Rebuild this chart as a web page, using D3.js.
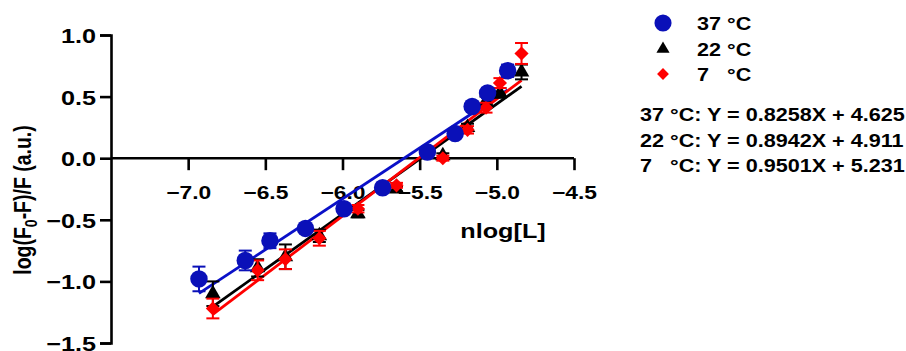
<!DOCTYPE html>
<html><head><meta charset="utf-8">
<script src="https://cdn.jsdelivr.net/npm/d3@7"></script>
<style>body{margin:0;background:#fff}svg{display:block;font-family:"Liberation Sans",Arial,sans-serif;font-weight:bold}</style>
</head><body><svg id="c" width="906" height="351"></svg>
<script>
const xTicks = [-7.0, -6.5, -6.0, -5.5, -5.0, -4.5];
const yTicks = [1.0, 0.5, 0.0, -0.5, -1.0, -1.5];
const seriesNames = ["37 °C", "22 °C", "7   °C"];
const equations = ["37 °C: Y = 0.8258X + 4.625", "22 °C: Y = 0.8942X + 4.911", "7   °C: Y = 0.9501X + 5.231"];
const slopes = [0.8258, 0.8942, 0.9501];
const intercepts = [4.625, 4.911, 5.231];
const x37 = [-6.93, -6.63, -6.47, -6.24, -5.99, -5.74, -5.45, -5.27, -5.16, -5.06, -4.93];
const y37 = [-0.98, -0.83, -0.67, -0.57, -0.41, -0.24, 0.05, 0.20, 0.42, 0.53, 0.71];
const e37 = [0.10, 0.08, 0.06, 0.03, 0.03, 0.02, 0.02, 0.03, 0.03, 0.04, 0.05];
const x22 = [-6.84, -6.55, -6.37, -6.15, -5.90, -5.65, -5.35, -5.19, -5.07, -4.98, -4.84];
const y22 = [-1.10, -0.89, -0.80, -0.63, -0.45, -0.25, 0.02, 0.25, 0.46, 0.53, 0.70];
const e22 = [0.10, 0.07, 0.10, 0.05, 0.03, 0.02, 0.02, 0.03, 0.04, 0.04, 0.06];
const x7 = [-6.84, -6.55, -6.37, -6.15, -5.90, -5.65, -5.35, -5.19, -5.07, -4.98, -4.84];
const y7 = [-1.22, -0.91, -0.82, -0.65, -0.41, -0.22, 0.00, 0.23, 0.41, 0.61, 0.85];
const e7 = [0.08, 0.08, 0.08, 0.06, 0.03, 0.02, 0.02, 0.03, 0.04, 0.04, 0.085];

const colors = ["#0a10b8", "#000000", "#ff0000"];
const lineColors = ["#0a10c8", "#000000", "#ff0000"];
const SX = 1.2;
const FONT = '"Liberation Sans",Arial,sans-serif';

const svg = d3.select("#c");
const x = d3.scaleLinear().domain([-7.5, -4.5]).range([111, 574]);
const y = d3.scaleLinear().domain([-1.5, 1.0]).range([343, 35]);

function stretch(sel) {
  sel.each(function() {
    const t = d3.select(this);
    const tx = +t.attr("x") || 0, ty = +t.attr("y") || 0;
    t.attr("x", 0).attr("y", 0).attr("transform", `translate(${tx},${ty}) scale(${SX},1)`);
  });
}
function stext(px, py, str, size, anchor) {
  return svg.append("text").attr("transform", `translate(${px},${py}) scale(${SX},1)`)
    .attr("text-anchor", anchor || "start").style("font-size", size + "px").attr("xml:space", "preserve").style("white-space", "pre").text(str);
}
const fmt = d => d3.format(".1f")(d).replace("-", "\u2212");

// y axis
const yAxis = svg.append("g").attr("transform", `translate(${x(-7.5)},0)`)
  .call(d3.axisLeft(y).tickValues(yTicks).tickSize(11).tickPadding(4).tickFormat(fmt));
// x axis at y=0
const xAxis = svg.append("g").attr("transform", `translate(0,${y(0)})`)
  .call(d3.axisBottom(x).tickValues(xTicks).tickSize(12).tickPadding(15).tickFormat(fmt));
[yAxis, xAxis].forEach(g => {
  g.selectAll(".domain").attr("stroke", "#000").attr("stroke-width", 2.6);
  g.selectAll(".tick line").attr("stroke", "#000").attr("stroke-width", 2.6);
  g.selectAll("text").attr("fill", "#000").style("font-weight", "bold").style("font-family", FONT);
});
yAxis.selectAll("text").style("font-size", "21px").attr("dy", "0.36em");
xAxis.selectAll("text").style("font-size", "19px");
stretch(yAxis.selectAll("text"));
stretch(xAxis.selectAll("text"));
xAxis.select(".domain").attr("d", `M${x(-7.5)},0H${x(-4.5)}`);

// axis titles
const yt = svg.append("text").attr("transform", `translate(31,200) scale(${SX},1) rotate(-90)`).attr("text-anchor", "middle").style("font-size", "19.5px");
yt.append("tspan").text("log(F");
yt.append("tspan").text("0").style("font-size", "14px").attr("dy", 5);
yt.append("tspan").text("-F)/F (a.u.)").attr("dy", -5);
stext(503, 238, "nlog[L]", 21, "middle");

const series = [
  {xs: x37, ys: y37, es: e37},
  {xs: x22, ys: y22, es: e22},
  {xs: x7, ys: y7, es: e7}
];
const symbolFor = [
  d3.symbol().type(d3.symbolCircle).size(240),
  d3.symbol().type(d3.symbolTriangle).size(105),
  d3.symbol().type(d3.symbolSquare).size(100)
];
const rot = [0, 0, 45];

// regression lines
series.forEach((s, i) => {
  const x0 = d3.min(s.xs), x1 = d3.max(s.xs);
  svg.append("line")
    .attr("x1", x(x0)).attr("y1", y(slopes[i] * x0 + intercepts[i]))
    .attr("x2", x(x1)).attr("y2", y(slopes[i] * x1 + intercepts[i]))
    .attr("stroke", lineColors[i]).attr("stroke-width", 2.8);
});

// points and error bars: draw black, red, blue
[1, 2, 0].forEach(i => {
  const s = series[i];
  const g = svg.append("g");
  const data = s.xs.map((xv, k) => ({x: xv, y: s.ys[k], e: s.es[k]}));
  const eb = g.selectAll("g.eb").data(data).join("g").attr("stroke", colors[i]).attr("stroke-width", 2);
  eb.append("line").attr("x1", d => x(d.x)).attr("x2", d => x(d.x)).attr("y1", d => y(d.y - d.e)).attr("y2", d => y(d.y + d.e));
  eb.append("line").attr("x1", d => x(d.x) - 6.5).attr("x2", d => x(d.x) + 6.5).attr("y1", d => y(d.y + d.e)).attr("y2", d => y(d.y + d.e));
  eb.append("line").attr("x1", d => x(d.x) - 6.5).attr("x2", d => x(d.x) + 6.5).attr("y1", d => y(d.y - d.e)).attr("y2", d => y(d.y - d.e));
  g.selectAll("path.pt").data(data).join("path")
    .attr("d", symbolFor[i])
    .attr("transform", d => `translate(${x(d.x)},${y(d.y)}) rotate(${rot[i]})`)
    .attr("fill", colors[i]);
});

// legend
const legY = [23, 49, 74];
const legSym = [
  d3.symbol().type(d3.symbolCircle).size(230),
  d3.symbol().type(d3.symbolTriangle).size(75),
  d3.symbol().type(d3.symbolSquare).size(70)
];
seriesNames.forEach((n, i) => {
  svg.append("path").attr("d", legSym[i]())
    .attr("transform", `translate(663,${legY[i]}) rotate(${rot[i]})`).attr("fill", colors[i]);
  stext(697, legY[i] + 6.5, n, 18, "start");
});
const eqY = [114, 140, 165];
equations.forEach((t, i) => {
  stext(640, eqY[i] + 6.5, t, 18, "start");
});
</script></body></html>
